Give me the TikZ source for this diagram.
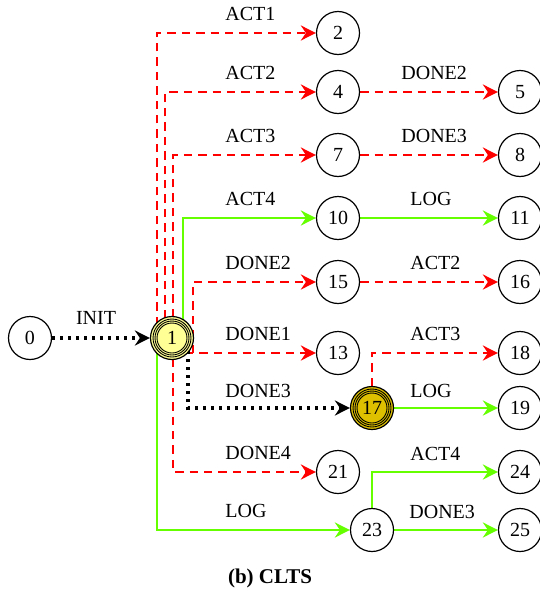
\documentclass[tikz,border=0pt]{standalone}
\usepackage{fontspec}
\setmainfont{Liberation Serif}
\usetikzlibrary{arrows.meta,calc,backgrounds}
\definecolor{actred}{RGB}{255,0,0}
\definecolor{loggreen}{RGB}{102,255,0}
\definecolor{paleyellow}{RGB}{255,255,150}
\definecolor{darkgold}{RGB}{222,192,0}
\tikzset{
  state/.style    = {circle, draw=black, line width=0.6pt, fill=white, minimum size=21.5pt,
                     inner sep=0pt, font=\fontsize{10}{12}\selectfont},
  initstate/.style = {state, fill=paleyellow},
  hotstate/.style  = {state, fill=darkgold},
  lbl/.style      = {font=\fontsize{10}{12}\selectfont, inner sep=0pt, anchor=west},
  tip/.style      = {-{Stealth[length=7.5pt, width=7.5pt, inset=2.5pt]}},
  redflow/.style  = {tip, draw=actred, line width=1.4pt, dash pattern=on 4.2pt off 3pt},
  greenflow/.style = {tip, draw=loggreen, line width=1.4pt},
  dotflow/.style  = {tip, draw=black, line width=1.6pt, dash pattern=on 1.4pt off 2.6pt},
}
\newcommand{\rings}[1]{\foreach \r in {9.5pt,8.5pt,7.5pt} \draw[line width=0.45pt] (#1) circle[radius=\r];}

\begin{document}
\begin{tikzpicture}[x=0.5pt, y=-0.5pt]
\useasboundingbox (0,0) rectangle (540,594);
% states
\node[state] (n0) at (30,338) {0};
\node[initstate] (n1) at (172,338) {};
\rings{n1}
\node at (n1) {\fontsize{10}{12}\selectfont 1};
\node[state] (n2) at (338,33) {2};
\node[state] (n4) at (338,92) {4};
\node[state] (n7) at (338,155) {7};
\node[state] (n10) at (338,218) {10};
\node[state] (n15) at (338,282) {15};
\node[state] (n13) at (338,353) {13};
\node[state] (n21) at (338,472) {21};
\node[hotstate] (n17) at (372,408) {};
\rings{n17}
\node at (n17) {\fontsize{10}{12}\selectfont 17};
\node[state] (n23) at (372,530) {23};
\node[state] (n5) at (520,92) {5};
\node[state] (n8) at (520,155) {8};
\node[state] (n11) at (520,218) {11};
\node[state] (n16) at (520,282) {16};
\node[state] (n18) at (520,353) {18};
\node[state] (n19) at (520,408) {19};
\node[state] (n24) at (520,472) {24};
\node[state] (n25) at (520,530) {25};

% transitions, behind the states
\begin{scope}[on background layer]
\draw[dotflow] (n0) -- (n1);
\draw[redflow] ($(n1)+(-15,-13)$) |- (n2);
\draw[redflow] ($(n1)+(-7,-20)$) |- (n4);
\draw[redflow] ($(n1)+(1,-21)$) |- (n7);
\draw[greenflow] ($(n1)+(11,-18)$) |- (n10);
\draw[redflow] ($(n1)+(21,15)$) |- (n15);
\draw[redflow] ($(n1)+(13,15)$) -- (n13);
\draw[dotflow] ($(n1)+(16,13)$) |- (n17);
\draw[redflow] ($(n1)+(1,21)$) |- (n21);
\draw[greenflow] ($(n1)+(-15,14)$) |- (n23);
\draw[redflow] (n4) -- (n5);
\draw[redflow] (n7) -- (n8);
\draw[greenflow] (n10) -- (n11);
\draw[redflow] (n15) -- (n16);
\draw[redflow] (n17.north) |- (n18);
\draw[greenflow] (n17) -- (n19);
\draw[greenflow] (n23.north) |- (n24);
\draw[greenflow] (n23) -- (n25);
\end{scope}

% labels
\node[lbl, anchor=center] (linit) at (96,318) {INIT};
\node[lbl] (lact1) at (225,14) {ACT1};
\node[lbl] (lact2) at (225,73) {ACT2};
\node[lbl] (lact3) at (225,136) {ACT3};
\node[lbl] (lact4) at (225,199) {ACT4};
\node[lbl] (ldone2) at (225,263) {DONE2};
\node[lbl] (ldone1) at (225,334) {DONE1};
\node[lbl] (ldone3) at (225,391) {DONE3};
\node[lbl] (ldone4) at (225,453) {DONE4};
\node[lbl] (llog) at (225,511) {LOG};
\node[lbl] (ldone2b) at (401,73) {DONE2};
\node[lbl] (ldone3b) at (401,136) {DONE3};
\node[lbl] (llogb) at (410,199) {LOG};
\node[lbl] (lact2b) at (410,263) {ACT2};
\node[lbl] (lact3b) at (410,334) {ACT3};
\node[lbl] (llogc) at (410,391) {LOG};
\node[lbl] (lact4b) at (410,454) {ACT4};
\node[lbl] (ldone3c) at (409,512) {DONE3};
\node[font=\fontsize{10.5}{12}\selectfont\bfseries] (caption) at (270,578) {(b) CLTS};
\end{tikzpicture}
\end{document}
